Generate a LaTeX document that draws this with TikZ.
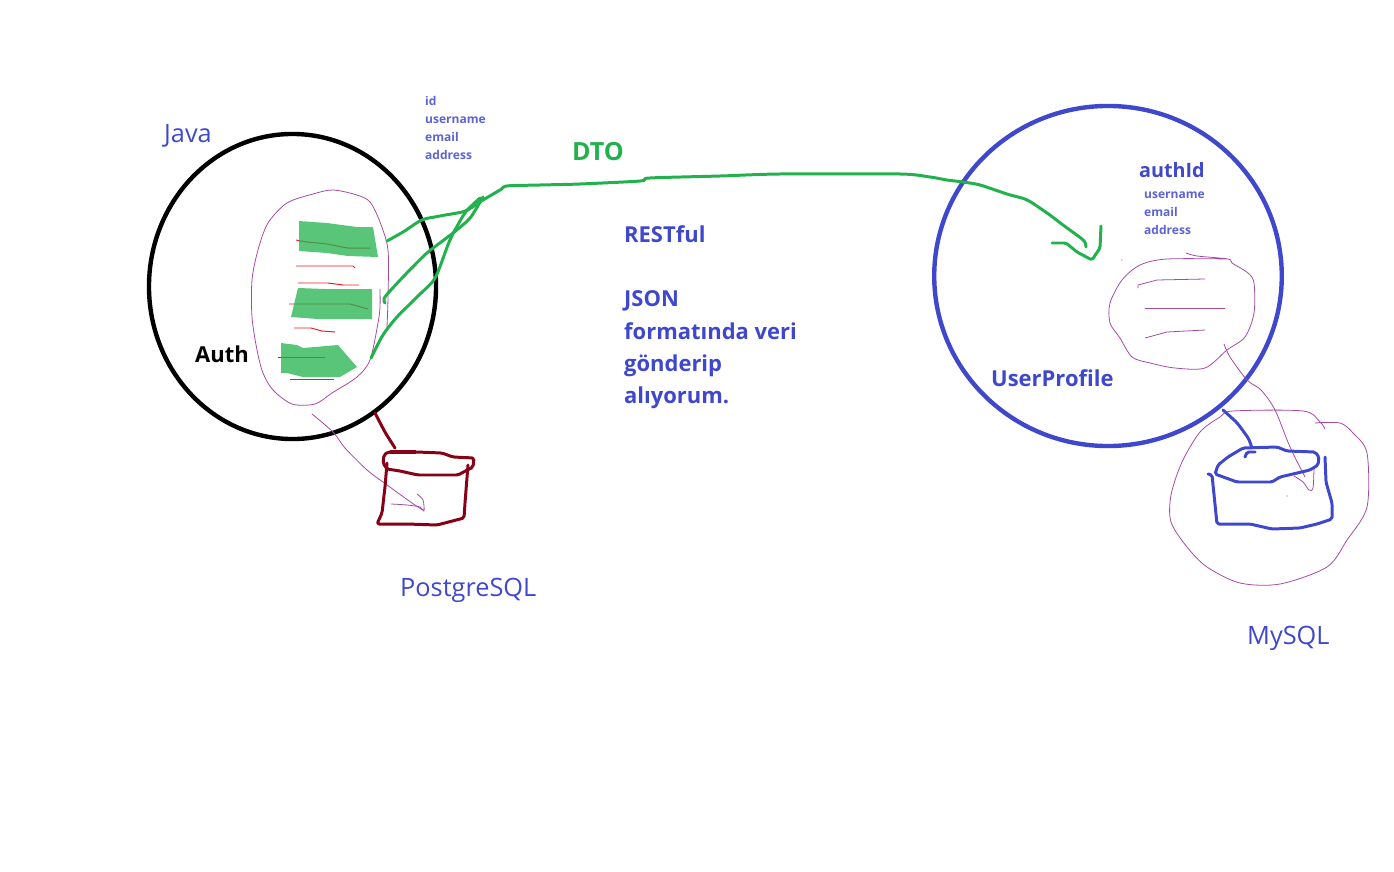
\documentclass[tikz,border=0pt]{standalone}
\usepackage{fontspec}
\setmainfont{Open Sans}
\usetikzlibrary{shapes.geometric}
\definecolor{pblue}{RGB}{63,72,204}
\definecolor{pgreen}{RGB}{34,177,76}
\definecolor{ppurple}{RGB}{163,73,164}
\definecolor{pred}{RGB}{237,28,36}
\definecolor{pmaroon}{RGB}{136,0,21}
\begin{document}
\begin{tikzpicture}[x=0.04cm, y=-0.04cm,
  label/.style={anchor=west, inner sep=0pt, pblue, align=left},
  bigtext/.style={font=\fontsize{28.8}{34}\selectfont},
  boldtext/.style={font=\fontsize{25}{36.8}\selectfont\bfseries},
  fieldtext/.style={font=\fontsize{13.7}{20.4}\selectfont\bfseries, pblue!85},
  pencil/.style={ppurple, line width=0.9pt, line join=round, line cap=round},
  redline/.style={pred, line width=1.1pt, line join=round},
  brush/.style={line width=3.4pt, line join=round, line cap=round, rounded corners=2pt},
  patch/.style={fill=pgreen, fill opacity=0.75, draw=none}]

\useasboundingbox (0,0) rectangle (1394,872);

% Service circles
\node[draw=black, line width=5pt, ellipse, inner sep=0pt, minimum width=11.48cm, minimum height=12.2cm] (authcircle) at (292.5,286.5) {};
\node[draw=pblue, line width=5pt, ellipse, inner sep=0pt, minimum width=13.9cm, minimum height=13.6cm] (profilecircle) at (1108,276) {};

% Auth: red lines, then green marker over them
\draw[redline] plot[smooth, tension=0.4] coordinates {(296,240) (307,242) (327,244) (348,248) (370,248)};
\draw[redline] (296,266) -- (353,266) -- (355,268);
\draw[redline] (298,283) -- (328,283) -- (343,285) -- (359,285);
\draw[redline] (289,304) -- (350,304) -- (368,309);
\draw[redline] (294,328) -- (311,328) -- (322,331) -- (335,332);
\draw[redline] (278,357) -- (325,357);
\draw[redline] (290,379.5) -- (334,379.5);
\fill[patch] (299,221) -- (327,223) -- (357,227) -- (373,227) -- (378,257) -- (348,256) -- (327,253) -- (299,251) -- cycle;
\fill[patch] (298,288) -- (325,289) -- (372,289) -- (372,319) -- (318,319) -- (291,317) -- cycle;
\fill[patch] (281,343) -- (297,345) -- (303,348) -- (338,345) -- (357,367) -- (340,377) -- (303,377) -- (287,373) -- (281,373) -- cycle;

% Auth outline
\draw[pencil] plot[smooth, tension=0.5] coordinates {(387,327) (388,297) (388,250) (380,222) (370,202) (357,195) (333,190) (313,194) (287,203) (268,223) (258,250) (252,280) (252,317) (257,350) (263,373) (273,390) (292,404) (315,404) (332,393) (357,377) (370,360) (378,323) (380,307) (380,289)};
\draw[pencil] plot[smooth, tension=0.5] coordinates {(312,414) (333,432) (345,448) (367,470) (383,482) (405,498) (418,507) (423,510)};
\draw[pencil] plot[smooth, tension=0.5] coordinates {(391,504) (407,505) (420,507) (424,511) (423,500) (417,494)};

% PostgreSQL
\draw[pmaroon, brush] plot[smooth, tension=0.3] coordinates {(375,413) (385,432) (395,448)};
\draw[pmaroon, brush] (388,452) -- (417,452) -- (442,453) -- (453,457) -- (474,458) -- (473,467) -- (458,475) -- (418,475) -- (400,471) -- (387,469) -- (383,463) -- (384,455) -- cycle;
\draw[pmaroon, brush] (387,463) -- (385,487) -- (382,513) -- (377,524) -- (407,524) -- (437,525) -- (464,518) -- (465,503) -- (468,465);
\draw[pmaroon, line width=4.5pt] (390,452) -- (416,452);

% DTO lines
\draw[pgreen, brush] plot[smooth, tension=0.4] coordinates {(387,241) (403,232) (422,220) (440,216) (465,211) (483,200) (500,190) (507,186) (540,185) (580,184) (640,181) (650,178) (720,176) (780,174) (900,174) (930,177) (947,180) (963,182) (980,185) (1007,194) (1027,200) (1047,213) (1063,225) (1083,240) (1086,247)};
\draw[pgreen, brush] plot[smooth, tension=0.4] coordinates {(385,303) (385,297) (403,277) (427,253) (453,233) (470,218) (483,197)};
\draw[pgreen, brush] plot[smooth, tension=0.4] coordinates {(371,358) (383,335) (397,317) (417,297) (435,278) (450,240) (465,213) (480,198)};
\draw[pgreen, brush] (1052,243) -- (1066,243) -- (1077,252) -- (1092,260) -- (1100,248) -- (1101,226);

% UserProfile outline
\draw[pencil] plot[smooth, tension=0.5] coordinates {(1186,253) (1197,256) (1228,259) (1232,263) (1248,273) (1254,283) (1254,313) (1245,337) (1227,350) (1205,368) (1175,368) (1150,363) (1132,357) (1120,338) (1110,323) (1110,303) (1122,280) (1140,265) (1167,259) (1228,259)};
\draw[pencil] (1138,288) -- (1138,285) -- (1157,280) -- (1205,279);
\draw[pencil] (1145,308) -- (1225,308);
\draw[pencil] (1145,338) -- (1167,332) -- (1205,330);
\draw[pencil] plot[smooth, tension=0.5] coordinates {(1224,344) (1230,357) (1247,380) (1261,390) (1275,410) (1290,447) (1305,477)};
\draw[pencil] plot[smooth, tension=0.5] coordinates {(1294,476) (1303,482) (1309,490) (1313,488) (1314,468)};
\draw[pencil] plot[smooth, tension=0.5] coordinates {(1325,429) (1320,422) (1303,411) (1233,411) (1220,417) (1200,432) (1182,462) (1171,495) (1171,522) (1187,547) (1207,567) (1240,583) (1280,584) (1327,567) (1347,540) (1367,507) (1367,453) (1353,433) (1340,423) (1315,423)};
\fill[ppurple] (1122,260) circle (0.6);
\fill[ppurple] (1287,496) circle (0.6);

% MySQL
\draw[pblue, brush] plot[smooth, tension=0.3] coordinates {(1223,410) (1237,423) (1248,438) (1252,448)};
\draw[pblue, brush] (1245,457) -- (1247,452) -- (1255,452);
\draw[pblue, brush] (1243,448) -- (1277,447) -- (1287,451) -- (1315,452) -- (1319,457) -- (1318,465) -- (1310,470) -- (1280,477) -- (1272,482) -- (1237,482) -- (1215,474) -- (1218,465) -- (1228,457) -- cycle;
\draw[pblue, brush] (1208,474) -- (1212,475) -- (1217,524) -- (1250,524) -- (1272,529) -- (1300,528) -- (1317,524) -- (1332,519) -- (1332,503) -- (1326,482) -- (1325,457);

% Labels
\node[label, bigtext] (java) at (164,136) {Java};
\node[label, black, font=\fontsize{25}{30}\selectfont\bfseries] (auth) at (195,354) {Auth};
\node[label, fieldtext] (authfields) at (425,128) {id\\username\\email\\address};
\node[label, pgreen, font=\fontsize{28.5}{34}\selectfont\bfseries] (dto) at (572,152) {DTO};
\node[label, boldtext] (restful) at (624,234) {RESTful};
\node[label, boldtext] (json) at (624,350) {JSON\\formatında veri\\gönderip\\alıyorum.};
\node[label, font=\fontsize{22.5}{27}\selectfont\bfseries] (authid) at (1139,170) {authId};
\node[label, fieldtext] (profilefields) at (1144,213) {username\\email\\address};
\node[label, boldtext] (profile) at (991,378) {UserProfile};
\node[label, bigtext] (postgres) at (400,590) {PostgreSQL};
\node[label, bigtext] (mysql) at (1247,638) {MySQL};

\end{tikzpicture}
\end{document}
